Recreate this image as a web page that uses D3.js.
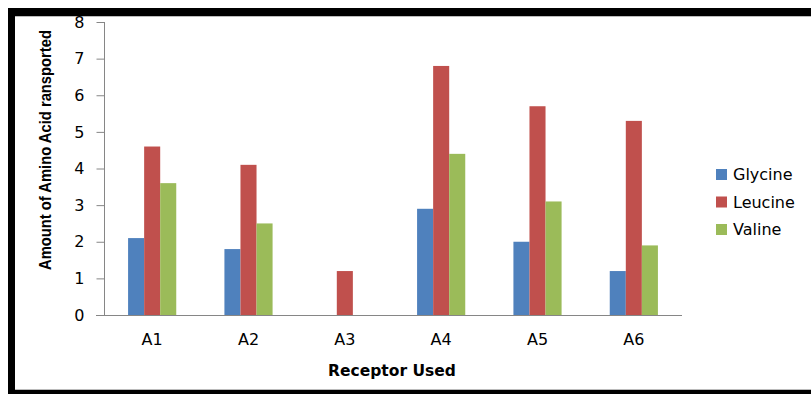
<!DOCTYPE html>
<html>

<head>
  <meta charset="utf-8">
  <title>Amino Acid Transport</title>
  <style>
    body { margin: 0; background: #fff; }
    text { font-family: "DejaVu Sans", Verdana, sans-serif; }
  </style>
</head>

<body>
  <svg width="811" height="394"></svg>
  <script src="https://d3js.org/d3.v7.min.js"></script>
  <script>
    // data
    var receptors = ["A1", "A2", "A3", "A4", "A5", "A6"];
    var seriesNames = ["Glycine", "Leucine", "Valine"];
    var glycine = [2.1, 1.8, 0, 2.9, 2.0, 1.2];
    var leucine = [4.6, 4.1, 1.2, 6.8, 5.7, 5.3];
    var valine = [3.6, 2.5, 0, 4.4, 3.1, 1.9];
    var yTicks = [0, 1, 2, 3, 4, 5, 6, 7, 8];

    var colors = ["#4F81BD", "#C0504D", "#9BBB59"];
    var series = [glycine, leucine, valine];

    var svg = d3.select("svg");

    // black frame
    svg.append("rect").attr("x", 8).attr("y", 8).attr("width", 803).attr("height", 8).attr("fill", "#000");
    svg.append("rect").attr("x", 8).attr("y", 8).attr("width", 7).attr("height", 386).attr("fill", "#000");
    svg.append("rect").attr("x", 8).attr("y", 390).attr("width", 803).attr("height", 4).attr("fill", "#000");
    svg.append("line").attr("x1", 15).attr("x2", 811).attr("y1", 16.5).attr("y2", 16.5).attr("stroke", "#bbb");
    svg.append("line").attr("x1", 15).attr("x2", 811).attr("y1", 389.5).attr("y2", 389.5).attr("stroke", "#bbb");

    var xScale = d3.scaleBand().domain(receptors).range([104, 682]).paddingInner(0.5).paddingOuter(0.25);
    var xInner = d3.scaleBand().domain(seriesNames).range([0, xScale.bandwidth()]);
    var yScale = d3.scaleLinear().domain([0, 8]).range([315, 22]);

    // bars
    seriesNames.forEach(function (name, i) {
      svg.append("g").selectAll("rect")
        .data(series[i])
        .enter()
        .append("rect")
        .attr("x", (d, j) => xScale(receptors[j]) + xInner(name))
        .attr("y", d => yScale(d))
        .attr("width", xInner.bandwidth())
        .attr("height", d => yScale(0) - yScale(d))
        .attr("fill", colors[i]);
    });

    // y axis
    var yAxis = svg.append("g")
      .attr("transform", "translate(104.5,0)")
      .call(d3.axisLeft(yScale).tickValues(yTicks).tickSize(8).tickPadding(12).tickFormat(d3.format("d")));
    yAxis.selectAll("line, path").attr("stroke", "#868686");
    yAxis.select(".domain").attr("d", "M0," + yScale(8) + "V" + yScale(0));
    yAxis.selectAll("text").attr("font-size", 16).attr("fill", "#000")
      .style("font-family", "'DejaVu Sans', Verdana, sans-serif");

    // x axis
    var xAxis = svg.append("g")
      .attr("transform", "translate(0," + (yScale(0) + 0.5) + ")")
      .call(d3.axisBottom(xScale).tickSize(0).tickPadding(18));
    xAxis.select(".domain").attr("stroke", "#868686").attr("d", "M96,0H682");
    xAxis.selectAll("text").attr("font-size", 16).attr("fill", "#000")
      .style("font-family", "'DejaVu Sans', Verdana, sans-serif");

    // axis titles
    svg.append("text")
      .attr("x", 392).attr("y", 376)
      .attr("text-anchor", "middle")
      .attr("font-size", 15.5).attr("font-weight", "bold")
      .text("Receptor Used");

    svg.append("text")
      .attr("transform", "translate(51,150) rotate(-90)")
      .attr("text-anchor", "middle")
      .attr("font-size", 16).attr("font-weight", "bold")
      .attr("textLength", 240).attr("lengthAdjust", "spacingAndGlyphs")
      .style("font-family", "'Liberation Sans Narrow', 'Liberation Sans', sans-serif")
      .text("Amount of Amino Acid ransported");

    // legend
    var legend = svg.append("g");
    seriesNames.forEach(function (name, i) {
      var y = 174 + i * 27.5;
      legend.append("rect").attr("x", 716).attr("y", y - 5).attr("width", 11).attr("height", 11).attr("fill", colors[i]);
      legend.append("text").attr("x", 733).attr("y", y + 6).attr("font-size", 16).text(name);
    });
  </script>

</body>

</html>
